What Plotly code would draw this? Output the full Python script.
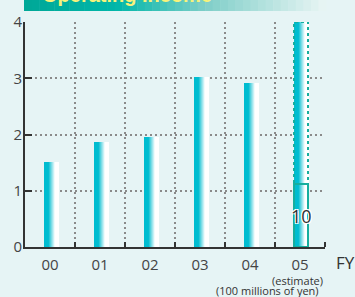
import plotly.graph_objects as go

# ---- data ----
fiscal_years = ["00", "01", "02", "03", "04", "05"]
operating_income = [1.51, 1.87, 1.96, 3.02, 2.92, 10]   # 100 millions of yen
axis_break = 1.12          # where the 05 (estimate) bar is broken
y_ticks = [0, 1, 2, 3, 4]

BG = "#E6F4F5"
TEAL = "#00BCD0"
OUTLINE = "#16AE9E"
xs = list(range(len(fiscal_years)))

def lerp(c1, c2, t):
    a = [int(c1[i:i + 2], 16) for i in (1, 3, 5)]
    b = [int(c2[i:i + 2], 16) for i in (1, 3, 5)]
    return "rgb(%d,%d,%d)" % tuple(round(a[k] + (b[k] - a[k]) * t) for k in range(3))

fig = go.Figure()

# gradient bars built from thin slices
bar_w = 0.28
n = 14
sw = bar_w / n
for i in range(n):
    f = i / (n - 1)
    if f < 0.3:
        t = 0
    elif f > 0.8:
        t = 1
    else:
        t = (f - 0.3) / 0.5
    col = lerp(TEAL, "#FFFFFF", t)
    fig.add_trace(go.Bar(
        x=xs, y=operating_income, width=sw * 1.08, offset=-bar_w / 2 + i * sw + 0.02,
        marker=dict(color=col, line=dict(width=0)), showlegend=False, hoverinfo="skip"))

last = len(fiscal_years) - 1
# broken (estimate) bar outline
fig.add_shape(type="rect", xref="x", yref="y", x0=last - bar_w / 2 + 0.02, x1=last + bar_w / 2 + 0.02,
              y0=0, y1=axis_break, line=dict(color=OUTLINE, width=2))
fig.add_shape(type="rect", xref="x", yref="y", x0=last - bar_w / 2 + 0.02, x1=last + bar_w / 2 + 0.02,
              y0=axis_break, y1=y_ticks[-1], line=dict(color=OUTLINE, width=2, dash="dot"))
fig.add_annotation(x=last + 0.02, y=axis_break / 2, xref="x", yref="y", text=str(operating_income[last]),
                   showarrow=False, xanchor="center", yanchor="middle",
                   font=dict(size=18, color="#333333", family="Open Sans",
                             shadow="1px 1px 0 #fff, -1px -1px 0 #fff, 1px -1px 0 #fff, -1px 1px 0 #fff"))

# title banner gradient (decorative)
L, T, H = 25, 22, 225
PW = 300
def px_x(p):
    return (p - L) / PW
def px_y(p):
    return 1 + (T - p) / H
stops = [(0, "#00A898"), (0.3, "#00B6A9"), (0.6, "#7ECEC8"), (1.0, "#E6F4F3")]
nb = 40
x_start, x_end = 24, 326
for i in range(nb):
    f = i / (nb - 1)
    for k in range(len(stops) - 1):
        if stops[k][0] <= f <= stops[k + 1][0]:
            t = (f - stops[k][0]) / (stops[k + 1][0] - stops[k][0])
            col = lerp(stops[k][1], stops[k + 1][1], t)
            break
    xa = x_start + (x_end - x_start) * i / nb
    xb = x_start + (x_end - x_start) * (i + 1) / nb + 0.5
    fig.add_shape(type="rect", xref="paper", yref="paper", x0=px_x(xa), x1=px_x(xb),
                  y0=px_y(11), y1=px_y(-2), line=dict(width=0), fillcolor=col, layer="below")
fig.add_annotation(xref="paper", yref="paper", x=px_x(40), y=px_y(8), xanchor="left", yanchor="bottom",
                   text="<b>Operating Income</b>", showarrow=False,
                   font=dict(size=20, color="#F8F27A", family="Liberation Sans"))

# axis labels
fig.add_annotation(xref="paper", yref="paper", x=px_x(345), y=px_y(262), text="FY", showarrow=False,
                   xanchor="center", yanchor="middle",
                   font=dict(size=17, color="#333333", family="Open Sans"))
fig.add_annotation(xref="paper", yref="paper", x=px_x(297), y=px_y(280), text="(estimate)", showarrow=False,
                   xanchor="center", yanchor="middle",
                   font=dict(size=11, color="#333333", family="Open Sans"))
fig.add_annotation(xref="paper", yref="paper", x=px_x(267), y=px_y(290), text="(100 millions of yen)",
                   showarrow=False, xanchor="center", yanchor="middle",
                   font=dict(size=11, color="#333333", family="Open Sans"))

fig.update_layout(
    width=355, height=297, margin=dict(l=25, r=30, t=22, b=50, autoexpand=False),
    paper_bgcolor=BG, plot_bgcolor=BG, barmode="overlay", bargap=0,
    font=dict(family="Open Sans", color="#444444", size=15),
    xaxis=dict(range=[-0.5, len(fiscal_years) - 0.5], tickvals=xs, ticktext=fiscal_years,
               automargin=False, ticklabelstandoff=3,
               ticks="", showgrid=False, zeroline=False, showline=True, linecolor="#333333",
               linewidth=2, tickfont=dict(size=15, color="#444444"),
               minor=dict(tickvals=[v + 0.5 for v in xs], ticks="inside", ticklen=5,
                          tickcolor="#333333", tickwidth=1.5, showgrid=True,
                          gridcolor="#8A8A8A", griddash="1.5px,3.5px", gridwidth=1.5)),
    yaxis=dict(range=[0, y_ticks[-1]], tickvals=y_ticks, ticks="inside", ticklen=7, tickwidth=2,
               automargin=False,
               tickcolor="#333333", showline=True, linecolor="#333333", linewidth=2,
               showgrid=True, gridcolor="#8A8A8A", griddash="1.5px,3.5px", gridwidth=1.5,
               zeroline=False, tickfont=dict(size=15, color="#444444"), ticklabelstandoff=-2),
)

fig.write_html("out.html", config={"displayModeBar": False},
               post_script="document.body.style.margin='0';document.body.style.background='%s';" % BG)
